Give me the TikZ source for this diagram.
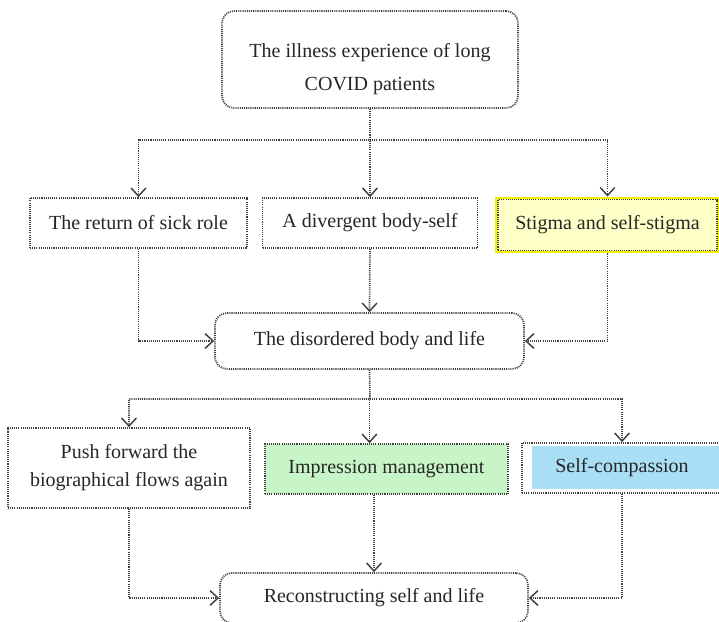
\documentclass[tikz,border=0pt]{standalone}
\usepackage{fontspec}
\setmainfont{Liberation Serif}
\usetikzlibrary{arrows.meta,calc}
\def\upx{0.75pt}
\definecolor{yelfill}{HTML}{FFFFC8}
\definecolor{yelline}{HTML}{F2F200}
\definecolor{grnfill}{HTML}{C8F5C8}
\definecolor{blufill}{HTML}{A8DFF5}
\tikzset{
  dotline/.style={draw=black!75, line width=1.3pt, dash pattern=on 0.8pt off 0.8pt},
  conn/.style={dotline, -{Straight Barb[length=6pt,width=11pt,line width=1.1pt]}},
  txt/.style={font=\fontsize{15}{21}\selectfont, text=black!85, align=center},
  box/.style={dotline, txt, inner sep=0pt},
  rbox/.style={box, rounded corners=9pt}
}
\begin{document}
\begin{tikzpicture}[x=\upx,y=-\upx]
\useasboundingbox (0,0) rectangle (719,622);
% top
\node[rbox, minimum width=296*\upx, minimum height=97*\upx] (top) at (370,59.5) {};
\node[txt, font=\fontsize{15}{25}\selectfont] (toptxt) at (370,69) {The illness experience of long\\COVID patients};
% row 2
\node[box, minimum width=217*\upx, minimum height=50*\upx] (ret) at (138.5,223) {The return of sick role};
\node[box, minimum width=215*\upx, minimum height=50*\upx] (div) at (370,223) {A divergent body-self};
\node[box, draw=yelline, line width=2.2pt, dash pattern=, fill=yelfill, minimum width=222*\upx, minimum height=54*\upx] (stig) at (607.5,225) {Stigma and self-stigma};
\draw[dotline] ($(stig.north west)+(3,3)$) rectangle ($(stig.south east)+(-3,-3)$);
% middle
\node[rbox, minimum width=309*\upx, minimum height=56*\upx] (dis) at (369.5,341) {The disordered body and life};
% row 3
\node[box, minimum width=242*\upx, minimum height=80*\upx] (push) at (129,468) {Push forward the\\biographical flows again};
\node[box, fill=grnfill, minimum width=243*\upx, minimum height=50*\upx] (imp) at (386.5,469) {Impression management};
\fill[blufill] (532,446) rectangle (719,489);
\node[box, minimum width=200*\upx, minimum height=50*\upx] (self) at (622,468) {Self-compassion};
% bottom
\node[rbox, minimum width=308*\upx, minimum height=50*\upx] (rec) at (374,598) {Reconstructing self and life};
% connectors
\coordinate (s1) at (370,140);
\draw[conn] (top.south) -- (s1) -| (ret.north);
\draw[conn] (top.south) -- (div.north);
\draw[conn] (s1) -| (stig.north);
\draw[conn] (ret.south) |- (dis.west);
\draw[conn] (div.south) -- (dis.north);
\draw[conn] (stig.south) |- (dis.east);
\coordinate (s2) at (370,399);
\draw[conn] (dis.south) -- (s2) -| (push.north);
\draw[conn] (dis.south) -- (dis.south |- imp.north);
\draw[conn] (s2) -| (self.north);
\draw[conn] (push.south) |- (rec.west);
\draw[conn] (rec.north |- imp.south) -- (rec.north);
\draw[conn] (self.south) |- (rec.east);
\end{tikzpicture}
\end{document}
